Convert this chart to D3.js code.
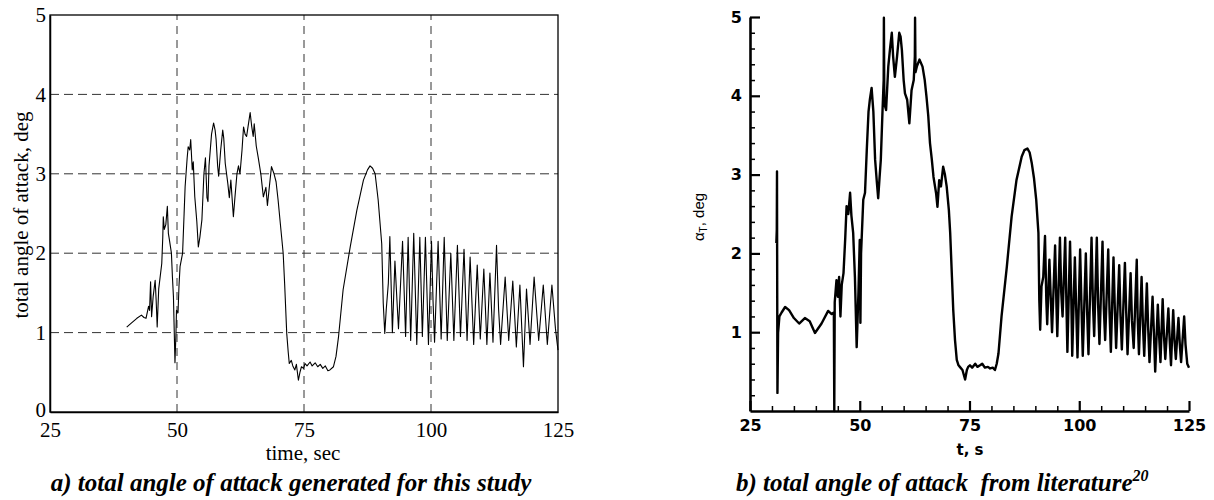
<!DOCTYPE html>
<html><head><meta charset="utf-8">
<script src="https://cdn.jsdelivr.net/npm/d3@7"></script>
<style>
body{margin:0;background:#fff;}
svg{display:block;}
</style></head>
<body>
<svg id="c" width="1214" height="500"></svg>
<script>
// ---------- data ----------
// panel a: generated for this study  (time s, total angle of attack deg)
const tA = [40.1,41.0,42.1,43.0,43.5,43.9,44.4,44.6,44.8,45.0,45.3,45.7,45.9,46.1,46.4,47.0,47.2,47.3,47.5,47.8,48.1,48.3,48.5,48.9,49.1,49.3,49.6,49.8,49.9,50.2,50.4,50.6,51.1,51.4,51.6,52.0,52.2,52.5,52.7,53.0,53.2,53.5,53.9,54.2,54.5,54.9,55.3,55.6,55.9,56.1,56.3,56.8,57.2,57.5,57.7,58.0,58.2,58.6,59.0,59.2,59.5,60.0,60.3,60.6,61.1,61.4,61.8,62.1,62.4,62.8,63.1,63.4,63.7,64.0,64.4,64.7,65.0,65.2,65.6,66.0,66.5,67.0,67.5,67.8,68.2,68.6,69.1,69.5,69.9,70.3,70.6,70.9,71.2,71.6,71.9,72.1,72.5,72.8,73.2,73.5,73.9,74.2,74.5,74.9,75.2,75.6,76.2,76.6,77.2,77.7,78.2,78.7,79.2,79.7,80.1,80.8,81.3,81.8,82.7,84.1,85.4,86.7,87.5,88.0,88.5,89.0,89.6,90.3,90.6,90.9,91.2,91.6,91.9,92.4,92.9,93.3,93.6,94.4,95.0,95.5,96.0,96.6,97.2,97.8,98.3,98.9,99.5,100.1,100.4,100.7,101.4,102.0,102.6,103.2,103.9,104.5,105.2,105.8,106.5,107.1,107.7,108.4,109.1,109.7,110.4,111.0,111.6,112.2,112.9,113.3,113.7,114.6,115.3,116.1,116.8,117.5,118.2,118.8,119.5,120.3,121.2,122.1,122.9,123.8,124.5,125.0];
const vA = [1.07,1.12,1.18,1.22,1.19,1.18,1.33,1.28,1.64,1.20,1.45,1.66,1.40,1.07,1.55,1.87,2.20,2.46,2.30,2.36,2.59,2.25,2.17,2.00,1.70,1.45,0.62,1.00,1.28,1.25,1.60,1.83,2.00,2.50,2.84,3.20,3.34,3.30,3.43,3.05,3.15,2.71,2.40,2.08,2.20,2.42,3.00,3.20,2.70,2.65,3.10,3.50,3.64,3.55,3.43,3.10,2.97,3.30,3.55,3.45,3.13,2.88,2.70,2.92,2.46,2.70,3.00,3.10,3.00,3.30,3.59,3.50,3.47,3.60,3.77,3.60,3.47,3.63,3.35,3.20,3.00,2.71,2.83,2.60,2.85,3.09,3.00,2.90,2.67,2.40,2.20,2.00,1.60,0.99,0.75,0.61,0.65,0.58,0.53,0.60,0.40,0.50,0.57,0.55,0.61,0.58,0.63,0.58,0.62,0.57,0.60,0.55,0.58,0.52,0.53,0.57,0.70,0.95,1.54,2.08,2.54,2.92,3.05,3.10,3.07,3.00,2.67,2.12,1.37,0.99,1.30,1.62,2.21,1.00,1.90,1.40,1.05,2.15,0.95,2.20,0.90,2.25,0.85,2.20,0.95,2.20,0.85,2.15,1.40,0.88,2.15,0.92,2.20,0.90,2.00,0.90,2.10,0.95,2.05,0.90,1.95,0.85,1.85,0.92,1.80,0.85,1.75,0.88,2.10,1.30,0.85,1.70,0.90,1.65,0.82,1.60,0.57,1.55,0.85,1.70,0.90,1.60,0.85,1.60,1.05,0.78];

// panel b: from literature
const tB = [31.0,31.1,31.15,31.2,31.25,31.4,31.7,32.2,33.0,33.9,35.0,36.2,37.5,38.6,39.8,41.3,42.8,43.6,44.1,44.2,44.3,44.7,45.0,45.3,45.6,45.9,46.3,46.7,47.0,47.4,47.8,48.1,48.5,48.9,49.3,49.7,50.0,50.15,50.3,50.8,51.2,51.6,52.0,52.3,52.7,53.1,53.5,53.9,54.2,54.5,54.8,55.2,55.45,55.5,55.6,56.0,56.5,56.9,57.3,57.6,58.0,58.5,59.0,59.3,59.6,60.0,60.3,60.8,61.3,61.8,62.3,62.55,62.6,62.7,63.0,63.6,64.3,64.8,65.2,65.6,66.0,66.4,66.8,67.4,67.7,68.1,68.5,69.0,69.4,69.8,70.3,70.6,71.0,71.3,71.7,72.1,72.5,72.8,73.4,74.0,74.4,74.7,75.1,75.6,76.3,76.8,77.4,77.9,78.5,79.2,79.7,80.3,80.8,81.2,81.6,82.3,83.5,84.6,85.7,86.9,87.5,88.2,88.7,89.2,89.7,90.2,90.7,90.9,91.1,91.4,91.8,92.2,92.5,92.7,93.2,93.5,93.8,94.5,94.8,95.0,95.6,95.9,96.2,96.8,97.1,97.3,97.9,98.2,98.4,99.0,99.3,99.6,100.2,100.5,100.8,101.5,101.8,102.1,102.8,103.1,103.4,104.0,104.3,104.6,105.3,105.6,105.9,106.6,106.9,107.2,107.8,108.1,108.4,109.1,109.4,109.7,110.4,110.7,111.0,111.7,112.0,112.4,113.1,113.3,113.6,114.2,114.5,114.8,115.4,115.7,116.0,116.7,117.0,117.3,117.9,118.2,118.5,119.0,119.3,119.6,120.3,120.6,120.9,121.4,121.7,122.0,122.6,122.9,123.2,123.9,124.2,124.6,125.0];
const vB = [2.13,2.30,3.04,1.50,0.23,0.99,1.20,1.25,1.32,1.28,1.18,1.11,1.18,1.14,0.99,1.11,1.27,1.23,1.25,0.00,1.38,1.66,1.45,1.70,1.20,1.60,1.75,2.20,2.60,2.50,2.77,2.48,2.26,1.70,0.81,1.50,2.17,1.12,2.00,2.68,2.77,3.31,3.80,3.95,4.10,3.80,3.19,2.90,2.70,2.95,3.19,3.83,4.20,4.99,3.90,3.82,4.37,4.60,4.80,4.50,4.24,4.50,4.80,4.75,4.58,4.20,4.03,3.95,3.65,4.07,4.20,4.50,4.99,4.30,4.37,4.46,4.37,4.20,3.99,3.75,3.40,3.20,2.97,2.76,2.59,2.93,2.85,3.10,3.00,2.85,2.55,2.26,1.70,1.28,0.90,0.65,0.58,0.56,0.52,0.40,0.52,0.56,0.58,0.55,0.60,0.56,0.58,0.60,0.55,0.56,0.54,0.55,0.52,0.60,0.73,1.20,1.83,2.47,2.93,3.23,3.31,3.33,3.28,3.14,2.95,2.68,2.26,1.41,1.03,1.58,1.70,2.22,1.40,1.10,1.92,1.45,1.00,2.10,1.35,0.95,2.20,1.50,1.20,2.20,1.30,0.75,2.15,1.40,0.70,1.95,1.30,0.68,2.05,1.35,0.70,2.00,1.25,0.72,2.20,1.40,0.95,2.20,1.35,0.85,2.15,1.30,0.90,2.05,1.25,0.75,1.95,1.30,0.80,1.85,1.20,0.78,1.88,1.25,0.72,1.75,1.15,0.80,1.92,1.20,0.72,1.70,1.10,0.70,1.62,1.05,0.62,1.45,1.00,0.50,1.35,0.95,0.62,1.42,0.95,0.66,1.30,0.90,0.58,1.28,0.90,0.66,1.18,0.85,0.62,1.20,0.85,0.60,0.55];

const xTicks = [25,50,75,100,125];
const yTicksA = [0,1,2,3,4,5];
const yTicksB = [1,2,3,4,5];

// ---------- drawing ----------
const svg = d3.select("#c");
svg.append("rect").attr("width",1214).attr("height",500).attr("fill","#fff");

// Panel a
const xA = d3.scaleLinear().domain([25,125]).range([50,558]);
const yA = d3.scaleLinear().domain([0,5]).range([412,15]);
const gA = svg.append("g");
const serif = "'Liberation Serif','Times New Roman',Times,serif";

// grid
gA.append("g").selectAll("line").data([50,75,100]).join("line")
  .attr("x1",d=>xA(d)).attr("x2",d=>xA(d)).attr("y1",yA(0)).attr("y2",yA(5))
  .attr("stroke","#333").attr("stroke-width",1).attr("stroke-dasharray","8,6");
gA.append("g").selectAll("line").data([1,2,3,4]).join("line")
  .attr("y1",d=>yA(d)).attr("y2",d=>yA(d)).attr("x1",xA(25)).attr("x2",xA(125))
  .attr("stroke","#333").attr("stroke-width",1).attr("stroke-dasharray","9,5");

// box
gA.append("rect").attr("x",xA(25)).attr("y",yA(5)).attr("width",xA(125)-xA(25)).attr("height",yA(0)-yA(5))
  .attr("fill","none").attr("stroke","#000").attr("stroke-width",1.3);

const axA = gA.append("g").attr("transform",`translate(0,${yA(0)})`)
  .call(d3.axisBottom(xA).tickValues(xTicks).tickSize(0).tickPadding(10).tickFormat(d3.format("d")));
const ayA = gA.append("g").attr("transform",`translate(${xA(25)},0)`)
  .call(d3.axisLeft(yA).tickValues(yTicksA).tickSize(0).tickPadding(4).tickFormat(d3.format("d")));
[axA,ayA].forEach(a=>{
  a.select(".domain").attr("stroke","#000").attr("stroke-width",1.5);
  a.selectAll("text").attr("font-family",serif).attr("font-size",21).attr("fill","#000");
});
ayA.selectAll(".tick text").filter(d=>d===0).attr("dy","0.2em");

const lineA = d3.line().x((d,i)=>xA(tA[i])).y((d,i)=>yA(vA[i]));
gA.append("path").attr("d",lineA(tA)).attr("fill","none").attr("stroke","#000").attr("stroke-width",1.1).attr("stroke-linejoin","round");

gA.append("text").attr("x",303).attr("y",460).attr("text-anchor","middle")
  .attr("font-family",serif).attr("font-size",21).text("time, sec");
gA.append("text").attr("transform","translate(28,215) rotate(-90)").attr("text-anchor","middle")
  .attr("font-family",serif).attr("font-size",21).text("total angle of attack, deg");
gA.append("text").attr("x",291).attr("y",491).attr("text-anchor","middle")
  .attr("font-family",serif).attr("font-size",25).attr("font-weight","bold").attr("font-style","italic")
  .text("a) total angle of attack generated for this study");

// Panel b
const xB = d3.scaleLinear().domain([25,125]).range([750,1189]);
const yB = d3.scaleLinear().domain([0,5]).range([411,17]);
const gB = svg.append("g");
const sans = "'DejaVu Sans',Arial,sans-serif";

const lineB = d3.line().x((d,i)=>xB(tB[i])).y((d,i)=>yB(vB[i]));
gB.append("path").attr("d",lineB(tB)).attr("fill","none").attr("stroke","#000").attr("stroke-width",2.4).attr("stroke-linejoin","round");

// minor ticks
const minorX = d3.range(25,125.01,5).filter(v=>v%25!==0);
const minorY = d3.range(0,5.001,0.2).map(v=>+v.toFixed(1)).filter(v=>Math.abs(v-Math.round(v))>0.01);
gB.append("g").attr("transform",`translate(0,${yB(0)})`)
  .call(d3.axisBottom(xB).tickValues(minorX).tickSize(-5).tickFormat(""))
  .call(g=>{g.select(".domain").remove(); g.selectAll("line").attr("stroke","#000").attr("stroke-width",1.5);});
gB.append("g").attr("transform",`translate(${xB(25)},0)`)
  .call(d3.axisLeft(yB).tickValues(minorY).tickSize(-5).tickFormat(""))
  .call(g=>{g.select(".domain").remove(); g.selectAll("line").attr("stroke","#000").attr("stroke-width",1.5);});

const axB = gB.append("g").attr("transform",`translate(0,${yB(0)})`)
  .call(d3.axisBottom(xB).tickValues(xTicks).tickSizeInner(-10).tickSizeOuter(0).tickPadding(9).tickFormat(d3.format("d")));
const ayB = gB.append("g").attr("transform",`translate(${xB(25)},0)`)
  .call(d3.axisLeft(yB).tickValues(yTicksB).tickSizeInner(-10).tickSizeOuter(0).tickPadding(8).tickFormat(d3.format("d")));
[axB,ayB].forEach(a=>{
  a.select(".domain").attr("stroke","#000").attr("stroke-width",2.6);
  a.selectAll(".tick line").attr("stroke","#000").attr("stroke-width",2.2);
  a.selectAll("text").attr("font-family",sans).attr("font-size",16).attr("font-weight","bold").attr("fill","#000");
});

gB.append("text").attr("x",970).attr("y",455).attr("text-anchor","middle")
  .attr("font-family",sans).attr("font-size",15).attr("font-weight","bold").text("t, s");
const yl = gB.append("text").attr("transform","translate(704,217) rotate(-90)").attr("text-anchor","middle")
  .attr("font-family","'Liberation Sans',Arial,sans-serif").attr("font-size",15);
yl.append("tspan").text("α");
yl.append("tspan").attr("font-size",10).attr("dy",3).text("T");
yl.append("tspan").attr("dy",-3).text(", deg");

const cap = gB.append("text").attr("x",736).attr("y",491)
  .attr("font-family",serif).attr("font-size",25).attr("font-weight","bold").attr("font-style","italic")
  .style("white-space","pre");
cap.append("tspan").text("b) total angle of attack  from literature");
cap.append("tspan").attr("font-size",16).attr("dy",-10).text("20");
</script>
</body></html>
